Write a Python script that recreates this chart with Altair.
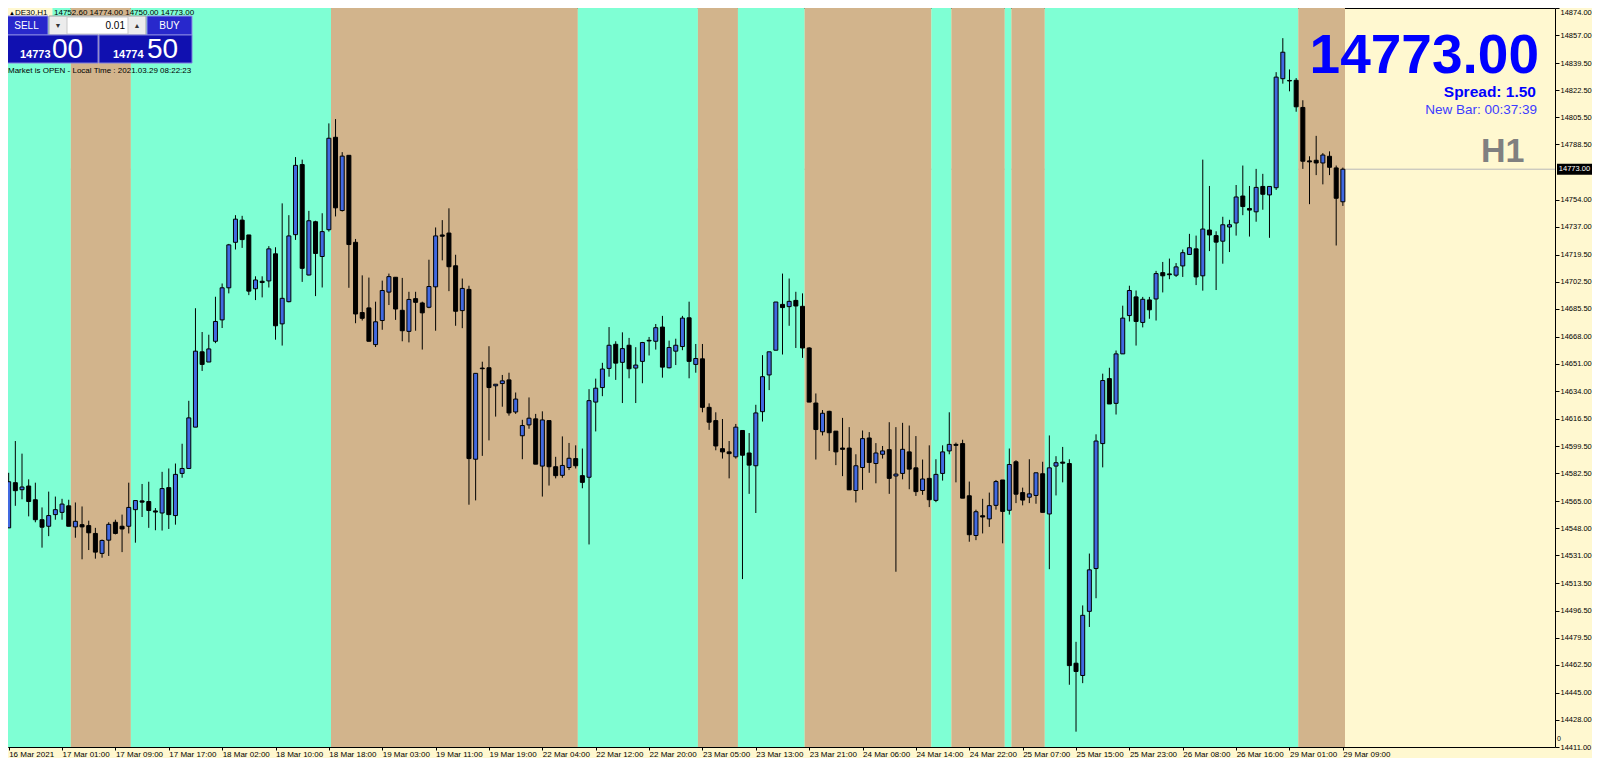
import altair as alt
import pandas as pd

# ---------------- data ----------------
opens = [14548.3,14576.6,14572.2,14574.5,14565.9,14553.4,14549.3,14556.6,14558.0,14562.1,
14548.9,14550.3,14549.7,14544.8,14532.3,14540.6,14551.8,14549.3,14549.3,14559.7,
14565.2,14564.8,14558.9,14557.6,14573.5,14556.0,14582.4,14585.5,14611.4,14658.6,
14652.2,14665.2,14678.6,14698.7,14727.2,14741.1,14731.8,14698.1,14702.8,14703.0,
14720.0,14676.1,14690.0,14732.0,14775.9,14706.7,14740.1,14718.3,14735.1,14793.0,
14747.1,14781.7,14727.2,14683.2,14686.1,14663.1,14678.2,14696.0,14705.3,14684.6,
14671.4,14691.9,14689.2,14686.5,14699.3,14731.8,14733.0,14712.5,14684.4,14697.7,
14591.3,14648.4,14648.6,14637.3,14638.7,14641.0,14620.9,14606.0,14612.8,14616.6,
14587.0,14615.5,14586.6,14581.2,14586.1,14591.7,14581.0,14580.0,14627.1,14636.2,
14648.2,14663.3,14652.0,14662.7,14648.4,14652.6,14665.8,14665.2,14674.1,14648.6,
14659.0,14661.9,14679.9,14650.7,14654.2,14623.8,14615.5,14597.9,14595.9,14592.8,
14609.3,14595.2,14587.2,14621.1,14644.1,14659.6,14688.3,14686.9,14690.8,14687.1,
14661.0,14626.5,14608.5,14621.3,14608.9,14598.3,14598.3,14571.7,14586.1,14604.6,
14588.6,14594.4,14597.3,14580.8,14582.4,14595.9,14585.9,14571.7,14579.3,14565.5,
14582.4,14596.5,14600.6,14601.1,14568.4,14543.5,14555.9,14553.9,14562.4,14578.3,
14559.3,14589.7,14570.4,14567.5,14568.6,14582.2,14557.0,14587.0,14589.5,14588.6,
14463.5,14455.8,14496.0,14522.8,14601.1,14641.8,14626.3,14657.3,14681.3,14693.0,
14677.0,14691.1,14691.7,14708.2,14707.4,14706.6,14712.4,14719.6,14723.1,14706.2,
14734.9,14731.4,14727.9,14736.8,14739.3,14756.2,14748.4,14746.3,14762.2,14756.9,
14761.4,14829.7,14828.6,14828.7,14811.7,14778.2,14778.6,14776.9,14781.1,14773.8,
14752.6]
highs = [14582.8,14602.7,14594.8,14578.7,14576.6,14561.1,14571.0,14567.9,14566.5,14565.9,
14564.2,14561.7,14552.8,14548.3,14541.0,14551.8,14553.4,14556.6,14576.6,14565.4,
14575.8,14577.2,14560.7,14583.4,14585.5,14588.6,14601.0,14627.9,14685.9,14671.0,
14669.3,14693.1,14701.4,14726.2,14744.2,14743.8,14731.8,14705.9,14705.9,14724.8,
14724.1,14751.6,14744.2,14780.6,14779.0,14746.9,14740.7,14745.4,14801.7,14804.4,
14783.7,14781.7,14729.3,14706.5,14705.1,14690.0,14703.2,14707.6,14705.3,14704.9,
14696.2,14696.2,14690.0,14716.3,14736.5,14741.1,14748.5,14719.4,14704.5,14700.0,
14645.1,14652.4,14662.1,14638.3,14644.1,14645.5,14633.1,14616.0,14630.0,14619.7,
14621.3,14615.5,14592.8,14605.6,14601.5,14600.0,14598.0,14635.2,14641.8,14651.7,
14674.1,14665.2,14670.8,14667.3,14661.5,14664.8,14667.9,14676.0,14681.1,14665.6,
14666.8,14681.1,14690.0,14663.5,14663.5,14626.3,14620.7,14616.5,14602.7,14613.4,
14609.3,14607.7,14625.4,14656.5,14658.6,14689.8,14707.6,14704.5,14696.2,14695.2,
14661.5,14632.5,14622.1,14621.7,14608.9,14617.2,14611.4,14594.4,14609.3,14608.3,
14601.4,14599.6,14614.5,14611.4,14614.1,14612.4,14605.8,14591.1,14600.0,14591.3,
14600.0,14620.7,14601.7,14603.5,14577.3,14559.7,14566.5,14570.4,14578.3,14578.3,
14598.0,14590.7,14573.5,14591.3,14582.8,14589.7,14606.2,14593.2,14599.0,14591.3,
14476.9,14499.7,14532.2,14606.9,14644.9,14648.6,14659.4,14687.5,14700.0,14697.0,
14693.0,14693.0,14709.3,14714.9,14717.0,14714.2,14722.7,14732.5,14731.4,14779.0,
14762.5,14734.1,14743.2,14741.3,14763.1,14775.3,14762.5,14773.2,14770.1,14762.2,
14833.8,14855.1,14835.5,14830.1,14816.2,14781.1,14793.9,14783.1,14784.2,14775.3,
14774.0]
lows = [14548.3,14562.1,14566.2,14555.5,14551.8,14535.9,14543.1,14553.4,14553.4,14549.3,
14542.1,14528.6,14534.4,14529.0,14529.6,14530.7,14544.2,14533.1,14544.8,14539.0,
14555.1,14548.3,14546.8,14546.6,14547.6,14550.3,14579.7,14585.5,14611.4,14646.6,
14652.2,14664.0,14673.5,14695.2,14722.7,14723.7,14694.1,14691.0,14692.7,14698.9,
14666.2,14662.5,14689.6,14728.7,14702.4,14706.5,14693.5,14698.9,14733.9,14743.4,
14746.5,14698.7,14676.5,14678.2,14665.2,14661.6,14672.4,14687.9,14678.6,14665.2,
14664.5,14671.8,14660.0,14685.9,14671.8,14715.9,14696.6,14674.9,14673.4,14562.8,
14565.5,14593.4,14603.1,14618.0,14624.2,14618.6,14619.7,14591.3,14610.4,14588.2,
14567.9,14574.8,14579.3,14579.7,14584.5,14585.5,14573.1,14537.9,14608.7,14630.8,
14643.0,14641.0,14626.5,14642.0,14626.5,14638.9,14656.3,14660.0,14642.4,14648.2,
14650.3,14659.6,14642.0,14645.5,14620.7,14609.7,14596.9,14591.7,14579.3,14591.7,
14516.2,14569.6,14557.6,14614.9,14634.6,14659.6,14656.9,14674.9,14661.0,14654.8,
14627.1,14591.1,14606.2,14596.5,14587.6,14580.7,14572.1,14564.2,14572.1,14582.8,
14576.2,14591.7,14569.6,14520.8,14578.7,14572.5,14568.3,14569.0,14561.3,14564.4,
14577.9,14594.4,14576.8,14566.9,14539.6,14540.6,14544.8,14548.9,14559.7,14538.6,
14556.6,14563.8,14562.4,14563.8,14563.4,14558.0,14522.4,14568.6,14576.8,14450.0,
14420.6,14451.0,14486.2,14504.2,14586.2,14625.9,14619.3,14657.3,14677.6,14662.5,
14673.9,14679.3,14678.2,14695.8,14704.1,14705.5,14705.5,14719.4,14700.4,14696.9,
14721.7,14697.3,14713.8,14721.1,14731.4,14744.2,14730.8,14740.1,14747.6,14730.0,
14760.0,14826.6,14821.8,14809.0,14773.2,14751.1,14769.3,14763.5,14769.3,14725.2,
14750.0]
closes = [14577.2,14571.6,14573.9,14564.8,14553.4,14548.7,14556.0,14559.7,14563.2,14549.3,
14552.4,14548.9,14545.2,14533.1,14540.4,14550.5,14544.8,14547.6,14561.1,14565.4,
14564.4,14559.2,14558.2,14572.9,14556.6,14581.8,14585.5,14617.2,14659.0,14650.7,
14660.4,14677.6,14698.7,14725.6,14741.7,14728.9,14696.6,14703.6,14702.0,14723.1,
14674.9,14692.1,14731.2,14775.4,14710.9,14740.7,14720.2,14733.9,14792.4,14748.8,
14781.2,14725.8,14682.3,14679.6,14665.2,14677.4,14697.0,14705.7,14685.4,14671.8,
14691.4,14689.6,14683.0,14699.5,14731.2,14731.0,14711.9,14684.0,14698.3,14591.7,
14645.1,14648.0,14636.2,14638.3,14640.4,14620.3,14629.0,14612.4,14617.0,14588.2,
14615.9,14586.6,14581.0,14587.4,14591.9,14587.2,14576.8,14628.0,14635.8,14647.8,
14662.7,14651.5,14660.6,14648.0,14650.3,14664.4,14665.4,14673.7,14649.0,14661.3,
14662.7,14679.7,14652.6,14654.4,14623.8,14614.5,14599.6,14595.9,14594.8,14611.4,
14593.8,14587.6,14620.3,14643.0,14658.6,14689.8,14686.3,14690.2,14687.3,14661.0,
14627.1,14609.9,14620.1,14607.9,14595.9,14597.5,14572.1,14587.2,14604.2,14589.3,
14595.2,14596.5,14579.3,14582.0,14597.5,14585.1,14571.0,14578.9,14565.9,14581.8,
14595.9,14600.6,14600.0,14566.9,14544.0,14558.4,14555.1,14562.2,14577.3,14558.6,
14588.0,14569.4,14565.7,14569.6,14582.8,14558.0,14585.9,14589.1,14588.8,14462.0,
14458.3,14493.5,14522.0,14602.7,14640.6,14625.9,14657.3,14679.7,14697.0,14677.6,
14691.5,14684.9,14707.6,14706.2,14706.9,14711.8,14720.7,14723.8,14705.5,14735.5,
14731.8,14727.3,14738.2,14738.2,14755.6,14749.6,14747.4,14761.6,14757.3,14762.2,
14830.7,14846.3,14828.3,14812.1,14778.0,14777.6,14776.9,14781.9,14774.2,14754.8,
14773.0]

time_labels = ["16 Mar 2021","17 Mar 01:00","17 Mar 09:00","17 Mar 17:00","18 Mar 02:00",
"18 Mar 10:00","18 Mar 18:00","19 Mar 03:00","19 Mar 11:00","19 Mar 19:00","22 Mar 04:00",
"22 Mar 12:00","22 Mar 20:00","23 Mar 05:00","23 Mar 13:00","23 Mar 21:00","24 Mar 06:00",
"24 Mar 14:00","24 Mar 22:00","25 Mar 07:00","25 Mar 15:00","25 Mar 23:00","26 Mar 08:00",
"26 Mar 16:00","29 Mar 01:00","29 Mar 09:00"]
label_step = 8

price_ticks = [14874,14857,14839.5,14822.5,14805.5,14788.5,14754,14737,14719.5,14702.5,
14685.5,14668,14651,14634,14616.5,14599.5,14582.5,14565,14548,14531,14513.5,14496.5,
14479.5,14462.5,14445,14428,14411]

band_start = [0,10,19,49,86,104,110,120,139,142,150,151,156,194]
band_end   = [9,18,48,85,103,109,119,138,141,149,150,155,193,200]
band_kind  = ["up","down","up","down","up","down","up","down","up","down","up","down","up","down"]

current_price = 14773.0

# ---------------- styling ----------------
AQUA = "#7FFFD4"
TAN = "#D2B48C"
BG = "#FFF8D0"
BULL = "#4169E1"
FONT = "Liberation Sans"
W, H = 1547, 739

n = len(opens)
df = pd.DataFrame({"k": list(range(n)), "open": opens, "high": highs,
                   "low": lows, "close": closes})
bands = pd.DataFrame({"s": [s - 0.68 for s in band_start],
                      "e": [e + 0.32 for e in band_end],
                      "kind": band_kind})
cur = pd.DataFrame({"p": [current_price]})
one = pd.DataFrame({"a": [0]})

xs = alt.Scale(domain=[-0.1, 231.8], nice=False, zero=False, padding=0)
ys = alt.Scale(domain=[14411, 14874], nice=False, zero=False, padding=0)

lab_arr = "[" + ",".join("'%s'" % t for t in time_labels) + "]"
xaxis = alt.Axis(values=list(range(0, n, label_step)),
                 labelExpr=lab_arr + "[round(datum.value/%d)]" % label_step,
                 labelAlign="left", labelPadding=0, tickSize=3, domain=False, grid=False,
                 title=None, labelOverlap=False, labelFlush=False, labelBaseline="top",
                 labelFontSize=8)
yaxis = alt.Axis(orient="right", values=price_ticks, format=".2f", tickSize=4, labelPadding=1,
                 domain=False, grid=False, title=None, labelOverlap=False, labelFlush=False,
                 labelFontSize=7.5,
                 labelBaseline={"condition": {"test": "datum.value > 14870", "value": "top"},
                                "value": "middle"})

price_line = alt.Chart(cur).mark_rule(color="#B8B8B8", strokeWidth=1).encode(
    y=alt.Y("p:Q", scale=ys, axis=yaxis))

band_layer = alt.Chart(bands).mark_rect(clip=True).encode(
    x=alt.X("s:Q", scale=xs, axis=xaxis), x2="e:Q",
    color=alt.Color("kind:N", scale=alt.Scale(domain=["up", "down"], range=[AQUA, TAN]), legend=None))

wicks = alt.Chart(df).mark_rule(color="black", strokeWidth=1).encode(
    x=alt.X("k:Q", scale=xs, axis=xaxis),
    y=alt.Y("low:Q", scale=ys, axis=yaxis), y2="high:Q")

bodies = alt.Chart(df).mark_bar(size=4, stroke="black", strokeWidth=1).encode(
    x=alt.X("k:Q", scale=xs, axis=xaxis),
    y=alt.Y("open:Q", scale=ys, axis=yaxis), y2="close:Q",
    fill=alt.condition("datum.close > datum.open", alt.value(BULL), alt.value("black")))

price_box = alt.Chart(cur).mark_tick(color="black", thickness=11, size=35, opacity=1).encode(
    y=alt.Y("p:Q", scale=ys, axis=yaxis), x=alt.value(1566.5))
price_txt = alt.Chart(cur).mark_text(color="white", font=FONT, fontSize=7.5, align="center",
                                     baseline="middle").encode(
    y=alt.Y("p:Q", scale=ys, axis=yaxis), x=alt.value(1566.5), text=alt.Text("p:Q", format=".2f"))


def box(x1, x2, y1, y2, fill, stroke=None):
    return alt.Chart(one).mark_rect(fill=fill, stroke=stroke or fill, strokeWidth=1).encode(
        x=alt.value(x1), x2=alt.value(x2), y=alt.value(y1), y2=alt.value(y2))


def txt(x, y, s, size, color, weight="normal", align="left", baseline="alphabetic"):
    return alt.Chart(one).mark_text(text=s, fontSize=size, color=color, fontWeight=weight,
                                    align=align, baseline=baseline, font=FONT).encode(
        x=alt.value(x), y=alt.value(y))


deco = [
    # header
    box(-6, 44, -5, 9, BG),
    txt(1, 5, "▲", 6, "black", baseline="middle"),
    txt(7, 5, "DE30,H1", 8, "black", baseline="middle"),
    txt(46, 5, "14752.60 14774.00 14750.00 14773.00", 8, "black", baseline="middle"),
    # one-click panel
    box(-3, 40, 8, 27, "#2828CC", "#9090E8"),
    txt(18.5, 17.5, "SELL", 10, "white", align="center", baseline="middle"),
    box(41, 138, 8, 27, "#ECECEC", "#A0A0A0"),
    box(59, 120, 9, 26, "white", "#C8C8C8"),
    txt(50, 17.5, "▼", 7, "#333333", align="center", baseline="middle"),
    txt(129, 17.5, "▲", 7, "#333333", align="center", baseline="middle"),
    txt(117, 17.5, "0.01", 10, "black", align="right", baseline="middle"),
    box(139, 184, 8, 27, "#2828CC", "#9090E8"),
    txt(161.5, 17.5, "BUY", 10, "white", align="center", baseline="middle"),
    box(-3, 90, 27, 55, "#1010B0", "#8080E0"),
    box(91, 184, 27, 55, "#1010B0", "#8080E0"),
    txt(12, 50, "14773", 11, "white", weight="bold"),
    txt(44, 50, "00", 28, "white"),
    txt(105, 50, "14774", 11, "white", weight="bold"),
    txt(139, 50, "50", 28, "white"),
    txt(0, 62.5, "Market is OPEN - Local Time : 2021.03.29 08:22:23", 8, "black", baseline="middle"),
    # right info
    txt(1531, 64.5, "14773.00", 55, "#0000FF", weight="bold", align="right"),
    txt(1528, 88.5, "Spread: 1.50", 15.5, "#0000FF", weight="bold", align="right"),
    txt(1529, 106, "New Bar: 00:37:39", 13.5, "#3C3CFF", align="right"),
    txt(1516.5, 153.5, "H1", 34, "#808080", weight="bold", align="right"),
    txt(1549, 733, "0", 7, "black", baseline="alphabetic"),
]

chart = alt.layer(price_line, band_layer, wicks, bodies, *deco, price_box, price_txt).properties(
    width=W, height=H,
    autosize=alt.AutoSizeParams(type="none"),
    padding={"left": 0, "top": 0, "right": 37, "bottom": 11},
    background=BG,
).configure_view(stroke="black", strokeWidth=1).configure_axis(
    labelFont=FONT, labelColor="black", tickColor="black", tickWidth=1)

chart.save("out.html", embed_options={"renderer": "svg", "actions": False})
